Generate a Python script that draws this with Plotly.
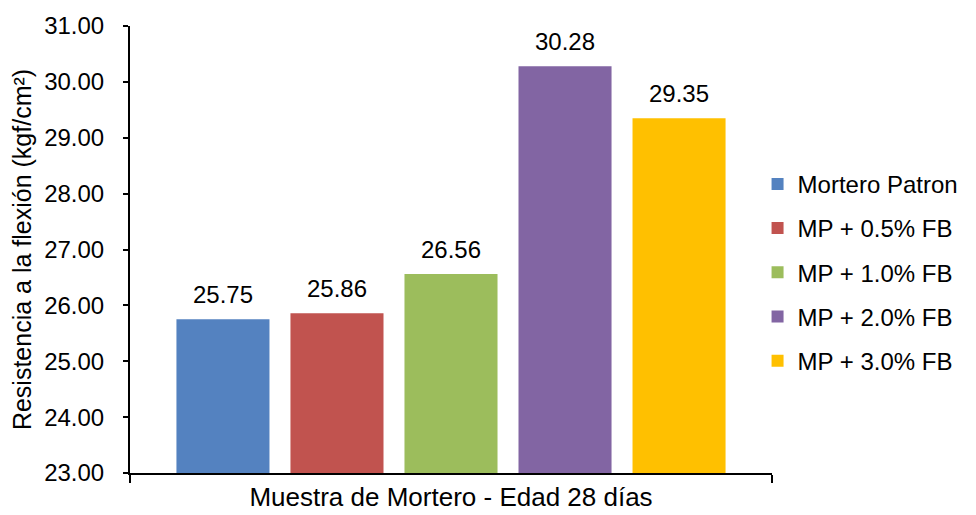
import plotly.graph_objects as go

category = ["Muestra de Mortero - Edad 28 días"]
series_names = ["Mortero Patron", "MP + 0.5% FB", "MP + 1.0% FB", "MP + 2.0% FB", "MP + 3.0% FB"]
values = [25.75, 25.86, 26.56, 30.28, 29.35]
colors = ["#5482c0", "#c1534f", "#9cbd5c", "#8265a3", "#ffc000"]
y_ticks = [23, 24, 25, 26, 27, 28, 29, 30, 31]

FONT = "Liberation Sans, Arial, sans-serif"
BARGAP = 0.112
BARGROUPGAP = 0.184

fig = go.Figure()
for name, val, col in zip(series_names, values, colors):
    fig.add_trace(go.Bar(
        x=category, y=[val], name=name, legendgroup=name,
        marker=dict(color=col, line=dict(width=0)),
    ))

# value labels above each grouped bar (slot centres follow plotly's group layout)
n = len(values)
slot = (1 - BARGAP) / n
for i, val in enumerate(values):
    fig.add_annotation(
        x=-(1 - BARGAP) / 2 + (i + 0.5) * slot, xref="x",
        y=val, yref="y", yanchor="bottom", yshift=9,
        text=f"{val:.2f}", showarrow=False,
        font=dict(family=FONT, size=24, color="#000000"),
    )

fig.update_layout(
    width=976, height=515,
    margin=dict(l=130, r=204, t=26, b=42, autoexpand=False),
    plot_bgcolor="white", paper_bgcolor="white",
    barmode="group", bargap=BARGAP, bargroupgap=BARGROUPGAP,
    font=dict(family=FONT, color="#000000"),
    showlegend=True,
    legend=dict(x=0.9775, y=0.449, xanchor="left", yanchor="middle",
                font=dict(family=FONT, size=24, color="#000000"),
                tracegroupgap=10, bgcolor="rgba(0,0,0,0)"),
    xaxis=dict(showline=True, linecolor="#000000", linewidth=2,
               ticks="outside", ticklen=8, tickwidth=2, tickcolor="#000000",
               tickson="boundaries", showgrid=False, automargin=False,
               tickfont=dict(family=FONT, size=26, color="#000000")),
    yaxis=dict(range=[23, 31], tickvals=y_ticks, tickformat=".2f",
               showline=True, linecolor="#000000", linewidth=2,
               ticks="outside", ticklen=5, tickwidth=2, tickcolor="#000000",
               ticklabelstandoff=14, automargin=False,
               showgrid=False, zeroline=False,
               tickfont=dict(family=FONT, size=24, color="#000000"),
               title=dict(text="Resistencia a la flexión (kgf/cm²)",
                          font=dict(family=FONT, size=25, color="#000000"),
                          standoff=5)),
)

fig.write_html("out.html", config={"displayModeBar": False},
               post_script="document.body.style.margin='0';")
